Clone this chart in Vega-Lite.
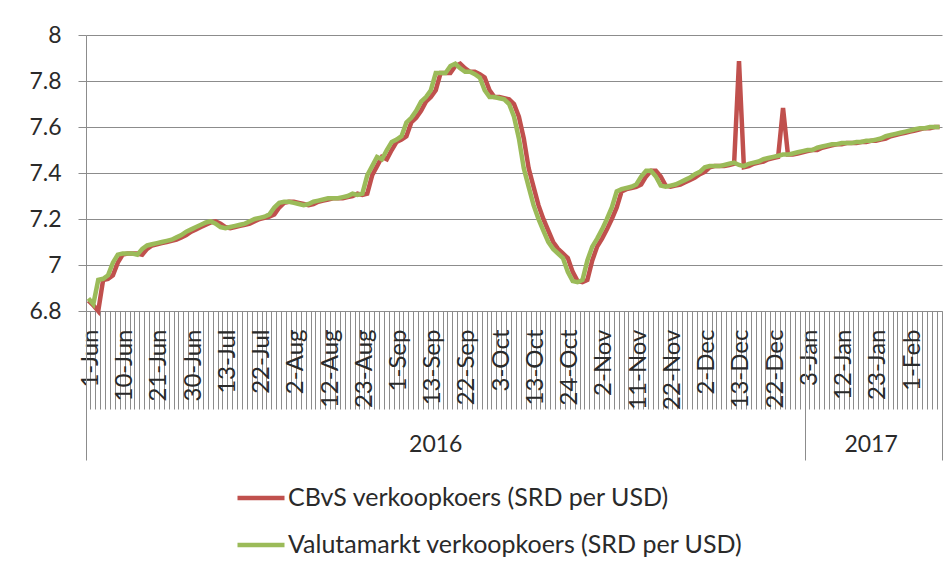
{
"$schema": "https://vega.github.io/schema/vega-lite/v6.json",
"width": 856, "height": 276,
"autosize": {"type": "none"},
"padding": {"left": 86, "top": 35, "right": 9, "bottom": 268},
"background": "white",
"config": {"view": {"stroke": null}, "font": "Lato"},
"data": {"values": [
{"d":"1-Jun","g":6.855,"r":6.845},{"d":"2-Jun","g":6.83,"r":6.825},{"d":"3-Jun","g":6.935,"r":6.80},{"d":"6-Jun","g":6.94,"r":6.935},{"d":"7-Jun","g":6.955,"r":6.94},{"d":"8-Jun","g":7.01,"r":6.955},{"d":"9-Jun","g":7.045,"r":7.01},{"d":"10-Jun","g":7.05,"r":7.045},{"d":"13-Jun","g":7.05,"r":7.05},{"d":"14-Jun","g":7.05,"r":7.05},{"d":"15-Jun","g":7.045,"r":7.05},{"d":"16-Jun","g":7.07,"r":7.045},{"d":"17-Jun","g":7.085,"r":7.07},{"d":"20-Jun","g":7.09,"r":7.085},{"d":"21-Jun","g":7.095,"r":7.09},{"d":"22-Jun","g":7.10,"r":7.095},{"d":"23-Jun","g":7.105,"r":7.10},{"d":"24-Jun","g":7.11,"r":7.105},{"d":"27-Jun","g":7.12,"r":7.11},{"d":"28-Jun","g":7.13,"r":7.12},{"d":"29-Jun","g":7.145,"r":7.13},{"d":"30-Jun","g":7.155,"r":7.145},
{"d":"4-Jul","g":7.165,"r":7.155},{"d":"5-Jul","g":7.175,"r":7.165},{"d":"7-Jul","g":7.185,"r":7.175},{"d":"8-Jul","g":7.19,"r":7.185},{"d":"11-Jul","g":7.18,"r":7.19},{"d":"12-Jul","g":7.165,"r":7.18},{"d":"13-Jul","g":7.16,"r":7.165},{"d":"14-Jul","g":7.165,"r":7.16},{"d":"15-Jul","g":7.17,"r":7.165},{"d":"18-Jul","g":7.175,"r":7.17},{"d":"19-Jul","g":7.18,"r":7.175},{"d":"20-Jul","g":7.19,"r":7.18},{"d":"21-Jul","g":7.20,"r":7.19},{"d":"22-Jul","g":7.205,"r":7.20},{"d":"25-Jul","g":7.21,"r":7.205},{"d":"26-Jul","g":7.22,"r":7.21},{"d":"27-Jul","g":7.25,"r":7.22},{"d":"28-Jul","g":7.27,"r":7.25},{"d":"29-Jul","g":7.275,"r":7.27},
{"d":"1-Aug","g":7.275,"r":7.275},{"d":"2-Aug","g":7.27,"r":7.275},{"d":"3-Aug","g":7.265,"r":7.27},{"d":"4-Aug","g":7.26,"r":7.265},{"d":"5-Aug","g":7.265,"r":7.26},{"d":"8-Aug","g":7.275,"r":7.265},{"d":"10-Aug","g":7.28,"r":7.275},{"d":"11-Aug","g":7.285,"r":7.28},{"d":"12-Aug","g":7.29,"r":7.285},{"d":"15-Aug","g":7.29,"r":7.29},{"d":"16-Aug","g":7.29,"r":7.29},{"d":"17-Aug","g":7.295,"r":7.29},{"d":"18-Aug","g":7.30,"r":7.295},{"d":"19-Aug","g":7.31,"r":7.30},{"d":"22-Aug","g":7.305,"r":7.31},{"d":"23-Aug","g":7.31,"r":7.305},{"d":"24-Aug","g":7.39,"r":7.31},{"d":"25-Aug","g":7.43,"r":7.39},{"d":"26-Aug","g":7.47,"r":7.43},{"d":"29-Aug","g":7.46,"r":7.47},{"d":"30-Aug","g":7.50,"r":7.46},{"d":"31-Aug","g":7.535,"r":7.50},
{"d":"1-Sep","g":7.545,"r":7.535},{"d":"2-Sep","g":7.56,"r":7.545},{"d":"5-Sep","g":7.62,"r":7.56},{"d":"6-Sep","g":7.64,"r":7.62},{"d":"7-Sep","g":7.67,"r":7.64},{"d":"8-Sep","g":7.71,"r":7.67},{"d":"9-Sep","g":7.73,"r":7.71},{"d":"13-Sep","g":7.76,"r":7.73},{"d":"14-Sep","g":7.835,"r":7.76},{"d":"15-Sep","g":7.835,"r":7.835},{"d":"16-Sep","g":7.835,"r":7.835},{"d":"19-Sep","g":7.865,"r":7.835},{"d":"20-Sep","g":7.875,"r":7.865},{"d":"21-Sep","g":7.855,"r":7.875},{"d":"22-Sep","g":7.84,"r":7.855},{"d":"23-Sep","g":7.84,"r":7.84},{"d":"26-Sep","g":7.83,"r":7.84},{"d":"27-Sep","g":7.815,"r":7.83},{"d":"28-Sep","g":7.76,"r":7.815},{"d":"29-Sep","g":7.73,"r":7.76},{"d":"30-Sep","g":7.73,"r":7.73},
{"d":"3-Oct","g":7.725,"r":7.73},{"d":"4-Oct","g":7.72,"r":7.725},{"d":"5-Oct","g":7.70,"r":7.72},{"d":"6-Oct","g":7.645,"r":7.70},{"d":"7-Oct","g":7.55,"r":7.645},{"d":"11-Oct","g":7.42,"r":7.55},{"d":"12-Oct","g":7.34,"r":7.42},{"d":"13-Oct","g":7.26,"r":7.34},{"d":"14-Oct","g":7.20,"r":7.26},{"d":"17-Oct","g":7.15,"r":7.20},{"d":"18-Oct","g":7.10,"r":7.15},{"d":"19-Oct","g":7.07,"r":7.10},{"d":"20-Oct","g":7.05,"r":7.07},{"d":"21-Oct","g":7.03,"r":7.05},{"d":"24-Oct","g":6.97,"r":7.03},{"d":"25-Oct","g":6.93,"r":6.97},{"d":"26-Oct","g":6.925,"r":6.93},{"d":"27-Oct","g":6.935,"r":6.925},{"d":"28-Oct","g":7.02,"r":6.935},{"d":"31-Oct","g":7.08,"r":7.02},
{"d":"1-Nov","g":7.115,"r":7.08},{"d":"2-Nov","g":7.155,"r":7.115},{"d":"3-Nov","g":7.20,"r":7.155},{"d":"4-Nov","g":7.25,"r":7.20},{"d":"7-Nov","g":7.32,"r":7.25},{"d":"8-Nov","g":7.33,"r":7.32},{"d":"9-Nov","g":7.335,"r":7.33},{"d":"10-Nov","g":7.34,"r":7.335},{"d":"11-Nov","g":7.35,"r":7.34},{"d":"14-Nov","g":7.385,"r":7.35},{"d":"15-Nov","g":7.41,"r":7.385},{"d":"16-Nov","g":7.41,"r":7.41},{"d":"17-Nov","g":7.385,"r":7.41},{"d":"18-Nov","g":7.345,"r":7.385},{"d":"21-Nov","g":7.34,"r":7.345},{"d":"22-Nov","g":7.345,"r":7.34},{"d":"23-Nov","g":7.35,"r":7.345},{"d":"24-Nov","g":7.36,"r":7.35},{"d":"28-Nov","g":7.37,"r":7.36},{"d":"29-Nov","g":7.38,"r":7.37},{"d":"30-Nov","g":7.395,"r":7.38},
{"d":"1-Dec","g":7.405,"r":7.395},{"d":"2-Dec","g":7.425,"r":7.405},{"d":"5-Dec","g":7.43,"r":7.425},{"d":"6-Dec","g":7.43,"r":7.43},{"d":"7-Dec","g":7.43,"r":7.43},{"d":"8-Dec","g":7.435,"r":7.43},{"d":"9-Dec","g":7.44,"r":7.435},{"d":"12-Dec","g":7.445,"r":7.44},{"d":"13-Dec","g":7.435,"r":7.886},{"d":"14-Dec","g":7.43,"r":7.425},{"d":"15-Dec","g":7.44,"r":7.43},{"d":"16-Dec","g":7.445,"r":7.44},{"d":"19-Dec","g":7.45,"r":7.445},{"d":"20-Dec","g":7.46,"r":7.45},{"d":"21-Dec","g":7.465,"r":7.46},{"d":"22-Dec","g":7.47,"r":7.465},{"d":"23-Dec","g":7.475,"r":7.47},{"d":"27-Dec","g":7.48,"r":7.683},{"d":"28-Dec","g":7.48,"r":7.48},{"d":"29-Dec","g":7.485,"r":7.48},{"d":"30-Dec","g":7.49,"r":7.485},
{"d":"2-Jan","g":7.495,"r":7.49},{"d":"3-Jan","g":7.50,"r":7.495},{"d":"4-Jan","g":7.50,"r":7.50},{"d":"5-Jan","g":7.51,"r":7.50},{"d":"6-Jan","g":7.515,"r":7.51},{"d":"9-Jan","g":7.52,"r":7.515},{"d":"10-Jan","g":7.525,"r":7.52},{"d":"11-Jan","g":7.525,"r":7.525},{"d":"12-Jan","g":7.53,"r":7.525},{"d":"13-Jan","g":7.53,"r":7.53},{"d":"16-Jan","g":7.53,"r":7.53},{"d":"17-Jan","g":7.535,"r":7.53},{"d":"18-Jan","g":7.535,"r":7.535},{"d":"19-Jan","g":7.54,"r":7.535},{"d":"20-Jan","g":7.54,"r":7.54},{"d":"23-Jan","g":7.545,"r":7.54},{"d":"24-Jan","g":7.55,"r":7.545},{"d":"25-Jan","g":7.56,"r":7.55},{"d":"26-Jan","g":7.565,"r":7.56},{"d":"27-Jan","g":7.57,"r":7.565},{"d":"30-Jan","g":7.575,"r":7.57},{"d":"31-Jan","g":7.58,"r":7.575},
{"d":"1-Feb","g":7.585,"r":7.58},{"d":"2-Feb","g":7.59,"r":7.585},{"d":"3-Feb","g":7.595,"r":7.59},{"d":"6-Feb","g":7.595,"r":7.595},{"d":"7-Feb","g":7.60,"r":7.595},{"d":"8-Feb","g":7.60,"r":7.60},{"d":"9-Feb","g":7.60,"r":7.60}
]},
"layer": [
{
"mark": {"type": "line", "strokeWidth": 4.5},
"encoding": {
"x": {"field": "d", "type": "ordinal", "sort": null, "bandPosition": 0.5,
"scale": {"type": "band", "paddingInner": 0, "paddingOuter": 0},
"axis": {"orient": "bottom", "title": null, "bandPosition": 0, "tickSize": 98, "tickColor": "#8c8c8c", "tickWidth": 1, "domainColor": "#8c8c8c", "domainWidth": 1,
"labelAngle": -90, "labelAlign": "right", "labelBaseline": "middle", "labelPadding": -80, "labelOffset": 2.4, "labelFontSize": 24, "labelColor": "#2a2a2a", "labelOverlap": false, "labelBound": false, "grid": false,
"labelExpr": "indexof(['1-Jun','10-Jun','21-Jun','30-Jun','13-Jul','22-Jul','2-Aug','12-Aug','23-Aug','1-Sep','13-Sep','22-Sep','3-Oct','13-Oct','24-Oct','2-Nov','11-Nov','22-Nov','2-Dec','13-Dec','22-Dec','3-Jan','12-Jan','23-Jan','1-Feb'], datum.value) >= 0 ? datum.value : ''"}},
"y": {"field": "r", "type": "quantitative", "scale": {"domain": [6.8, 8], "nice": false, "zero": false},
"axis": {"title": null, "values": [6.8, 7, 7.2, 7.4, 7.6, 7.8, 8], "format": ".1~f", "tickSize": 8, "tickColor": "#8c8c8c", "domainColor": "#8c8c8c", "grid": true, "gridColor": "#8c8c8c", "gridWidth": 1, "labelFontSize": 23, "labelColor": "#2a2a2a", "labelPadding": 17}},
"color": {"datum": "CBvS verkoopkoers (SRD per USD)", "type": "nominal",
"scale": {"domain": ["CBvS verkoopkoers (SRD per USD)", "Valutamarkt verkoopkoers (SRD per USD)"], "range": ["#C0504D", "#9BBB59"]},
"legend": {"orient": "none", "legendX": 149, "legendY": 437, "direction": "vertical", "title": null, "symbolType": "stroke", "symbolSize": 2209, "symbolStrokeWidth": 4.5, "labelFontSize": 25, "labelColor": "#2a2a2a", "rowPadding": 8, "labelOffset": 1, "labelLimit": 700}}
}
},
{
"mark": {"type": "line", "strokeWidth": 4.5},
"encoding": {
"x": {"field": "d", "type": "ordinal", "sort": null, "bandPosition": 0.5,
"scale": {"type": "band", "paddingInner": 0, "paddingOuter": 0},
"axis": {"orient": "bottom", "title": null, "values": ["1-Jun", "3-Jan"], "bandPosition": 0, "tickSize": 149, "tickColor": "#8c8c8c", "tickWidth": 1, "labels": false, "domain": false, "grid": false}},
"y": {"field": "g", "type": "quantitative"},
"color": {"datum": "Valutamarkt verkoopkoers (SRD per USD)", "type": "nominal"}
}
},
{
"mark": {"type": "line", "strokeOpacity": 0},
"encoding": {
"x": {"field": "d", "type": "ordinal", "sort": null, "bandPosition": 0.5,
"scale": {"type": "band", "paddingInner": 0, "paddingOuter": 0},
"axis": {"orient": "bottom", "title": null, "values": ["9-Feb"], "bandPosition": 1, "tickSize": 149, "tickColor": "#8c8c8c", "tickWidth": 1, "labels": false, "domain": false, "grid": false}},
"y": {"field": "g", "type": "quantitative"}
}
},
{
"mark": {"type": "line", "strokeOpacity": 0},
"encoding": {
"x": {"field": "d", "type": "ordinal", "sort": null, "bandPosition": 0.5,
"scale": {"type": "band", "paddingInner": 0, "paddingOuter": 0},
"axis": {"orient": "bottom", "title": null, "values": ["14-Sep", "20-Jan"], "bandPosition": 0.5, "ticks": false, "tickSize": 0, "domain": false, "grid": false, "labelAngle": 0, "labelAlign": "center", "labelBaseline": "middle", "labelPadding": 133, "labelFontSize": 23, "labelColor": "#2a2a2a",
"labelExpr": "datum.value == '14-Sep' ? '2016' : '2017'"}},
"y": {"field": "g", "type": "quantitative"}
}
}
],
"resolve": {"axis": {"x": "independent"}}
}
